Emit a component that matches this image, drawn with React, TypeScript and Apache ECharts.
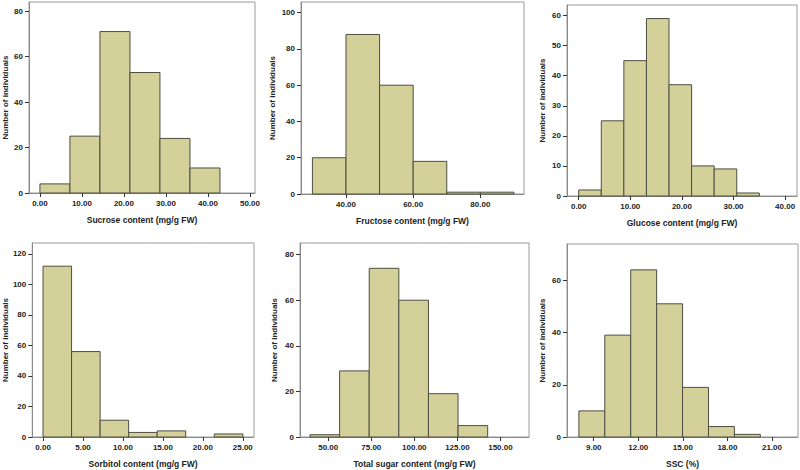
import React, { useEffect, useRef } from "react";
import * as echarts from "echarts";

// ---- Data ----
const sucroseCounts = [4, 25, 71, 53, 24, 11];
const sucroseBinStart = 0;
const sucroseBinWidth = 50 / 7;
const sucroseXTicks = [0, 10, 20, 30, 40, 50];
const sucroseYTicks = [0, 20, 40, 60, 80];

const fructoseCounts = [20, 88, 60, 18, 1, 1];
const fructoseBinStart = 30;
const fructoseBinWidth = 10;
const fructoseXTicks = [40, 60, 80];
const fructoseYTicks = [0, 20, 40, 60, 80, 100];

const glucoseCounts = [2, 25, 45, 59, 37, 10, 9, 1];
const glucoseBinStart = 0;
const glucoseBinWidth = 35 / 8;
const glucoseXTicks = [0, 10, 20, 30, 40];
const glucoseYTicks = [0, 10, 20, 30, 40, 50, 60];

const sorbitolCounts = [112, 56, 11, 3, 4, 0, 2];
const sorbitolBinStart = 0;
const sorbitolBinWidth = 25 / 7;
const sorbitolXTicks = [0, 5, 10, 15, 20, 25];
const sorbitolYTicks = [0, 20, 40, 60, 80, 100, 120];

const totalCounts = [1, 29, 74, 60, 19, 5];
const totalBinStart = 39.4;
const totalBinWidth = 17.2;
const totalXTicks = [50, 75, 100, 125, 150];
const totalYTicks = [0, 20, 40, 60, 80];

const sscCounts = [10, 39, 64, 51, 19, 4, 1];
const sscBinStart = 8.0;
const sscBinWidth = 1.745;
const sscXTicks = [9, 12, 15, 18, 21];
const sscYTicks = [0, 20, 40, 60];

const xNames = [
  "Sucrose content (mg/g FW)",
  "Fructose content (mg/g FW)",
  "Glucose content (mg/g FW)",
  "Sorbitol content (mg/g FW)",
  "Total sugar content (mg/g FW)",
  "SSC (%)",
];
const yName = "Number of individuals";

// ---- Layout / style ----
const FILL = "#D4D09A";
const STROKE = "#4d4d40";
const FONT = "Liberation Sans, Arial, sans-serif";

const panels = [
  { counts: sucroseCounts, start: sucroseBinStart, width: sucroseBinWidth, xt: sucroseXTicks, yt: sucroseYTicks,
    grid: { left: 26, top: 2, width: 229, height: 191 }, xMin: -2.6, xMax: 51.2, yMax: 84, yGap: 20, xGap: 22 },
  { counts: fructoseCounts, start: fructoseBinStart, width: fructoseBinWidth, xt: fructoseXTicks, yt: fructoseYTicks,
    grid: { left: 301, top: 2, width: 223, height: 192 }, xMin: 26.6, xMax: 93, yMax: 105.9, yGap: 25, xGap: 22 },
  { counts: glucoseCounts, start: glucoseBinStart, width: glucoseBinWidth, xt: glucoseXTicks, yt: glucoseYTicks,
    grid: { left: 567, top: 5, width: 230, height: 191 }, xMin: -2.27, xMax: 42.3, yMax: 63.5, yGap: 21, xGap: 22 },
  { counts: sorbitolCounts, start: sorbitolBinStart, width: sorbitolBinWidth, xt: sorbitolXTicks, yt: sorbitolYTicks,
    grid: { left: 28, top: 243, width: 226, height: 194 }, xMin: -1.35, xMax: 26.4, yMax: 127.2, yGap: 23, xGap: 22 },
  { counts: totalCounts, start: totalBinStart, width: totalBinWidth, xt: totalXTicks, yt: totalYTicks,
    grid: { left: 300, top: 243, width: 229, height: 194 }, xMin: 33.6, xMax: 166.6, yMax: 85.1, yGap: 22, xGap: 22 },
  { counts: sscCounts, start: sscBinStart, width: sscBinWidth, xt: sscXTicks, yt: sscYTicks,
    grid: { left: 567, top: 244, width: 231, height: 193 }, xMin: 7.2, xMax: 22.75, yMax: 73.9, yGap: 21, xGap: 22 },
];

export default function App() {
  const ref = useRef<HTMLDivElement>(null);
  useEffect(() => {
    if (!ref.current) return;
    const chart = echarts.init(ref.current, null, { renderer: "svg" });
    const grids: any[] = [];
    const xAxes: any[] = [];
    const yAxes: any[] = [];
    const series: any[] = [];
    panels.forEach((p, i) => {
      grids.push({ ...p.grid, show: true, borderColor: "#9a9a9a", borderWidth: 1, backgroundColor: "transparent" });
      xAxes.push({
        type: "value",
        gridIndex: i,
        min: p.xMin,
        max: p.xMax,
        name: xNames[i],
        nameLocation: "middle",
        nameGap: p.xGap,
        nameTextStyle: { fontFamily: FONT, fontWeight: "bold", fontSize: 8.5, color: "#222", verticalAlign: "top" },
        axisLine: { show: true, onZero: false, lineStyle: { color: "#8a8a8a", width: 1 } },
        axisTick: { show: true, length: 4, customValues: p.xt, lineStyle: { color: "#333" } },
        axisLabel: {
          customValues: p.xt,
          formatter: (v: number) => v.toFixed(2),
          fontFamily: FONT,
          fontWeight: "bold",
          fontSize: 8,
          color: "#222",
          margin: 6,
        },
        splitLine: { show: false },
      });
      yAxes.push({
        type: "value",
        gridIndex: i,
        min: 0,
        max: p.yMax,
        name: yName,
        nameLocation: "middle",
        nameGap: p.yGap,
        nameRotate: 90,
        nameTextStyle: { fontFamily: FONT, fontWeight: "bold", fontSize: 8, color: "#222" },
        axisLine: { show: true, onZero: false, lineStyle: { color: "#8a8a8a", width: 1 } },
        axisTick: { show: true, length: 4, customValues: p.yt, lineStyle: { color: "#333" } },
        axisLabel: {
          customValues: p.yt,
          formatter: (v: number) => String(Math.round(v)),
          fontFamily: FONT,
          fontWeight: "bold",
          fontSize: 8,
          color: "#222",
          margin: 6,
        },
        splitLine: { show: false },
      });
      const data = p.counts.map((c, k) => [p.start + k * p.width, p.start + (k + 1) * p.width, c]);
      series.push({
        type: "custom",
        xAxisIndex: i,
        yAxisIndex: i,
        encode: { x: [0, 1], y: 2 },
        data,
        renderItem: (params: any, api: any) => {
          const c = api.value(2);
          if (!c) return null;
          const p0 = api.coord([api.value(0), c]);
          const p1 = api.coord([api.value(1), 0]);
          return {
            type: "rect",
            shape: { x: p0[0], y: p0[1], width: p1[0] - p0[0], height: p1[1] - p0[1] },
            style: { fill: FILL, stroke: STROKE, lineWidth: 1 },
          };
        },
      });
    });
    chart.setOption({
      animation: false,
      backgroundColor: "#ffffff",
      grid: grids,
      xAxis: xAxes,
      yAxis: yAxes,
      series,
    });
    return () => chart.dispose();
  }, []);
  return (
    <div
      ref={ref}
      style={{ position: "fixed", left: 0, top: 0, width: 800, height: 470, background: "#fff" }}
    />
  );
}
